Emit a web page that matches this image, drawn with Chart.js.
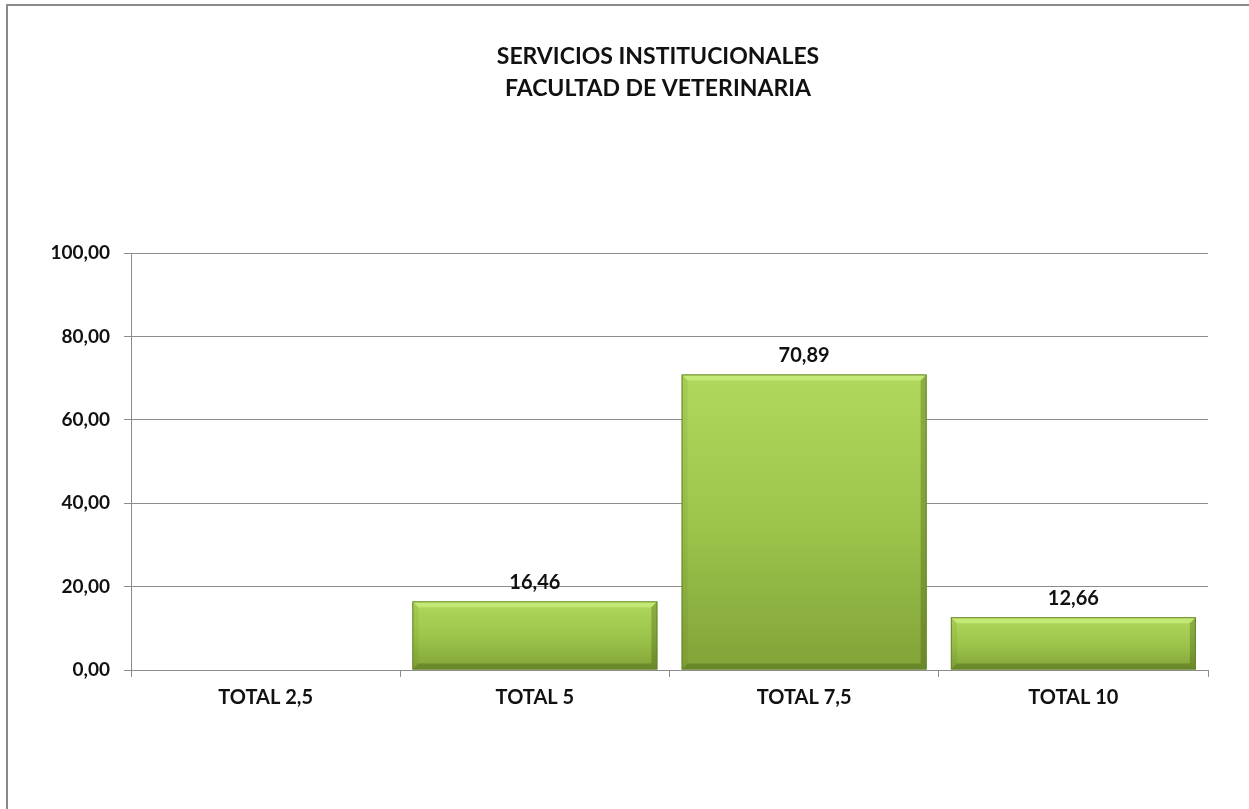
<!DOCTYPE html>
<html>
<head>
<meta charset="utf-8">
<script src="https://cdn.jsdelivr.net/npm/chart.js@4.4.1/dist/chart.umd.min.js"></script>
<style>
  html, body { margin: 0; padding: 0; overflow: hidden; background: #ffffff; width: 1249px; height: 809px; }
  #frame { position: absolute; left: 6px; top: 4px; width: 1400px; height: 1000px; border: 2px solid #8a8a8a; box-sizing: border-box; }
  #c { position: absolute; left: 0; top: 0; }
</style>
</head>
<body>
<div id="frame"></div>
<canvas id="c" width="1290" height="809"></canvas>
<script>
// Chart content
const chartTitle = ['SERVICIOS INSTITUCIONALES', 'FACULTAD DE VETERINARIA'];
const categories = ['TOTAL 2,5', 'TOTAL 5', 'TOTAL 7,5', 'TOTAL 10'];
const percentages = [0, 16.46, 70.89, 12.66];
const yTicks = [0, 20, 40, 60, 80, 100];

const FONT = 'Lato';
const GRID = '#8c8c8c';
const INK = '#111111';

// Comma as decimal separator, two decimals
const fmt = v => Number(v).toFixed(2).replace('.', ',');

// Vertical green gradient spanning each bar's own height
function barFill(ctx) {
  const chart = ctx.chart;
  const area = chart.chartArea;
  if (!area || ctx.dataIndex === undefined) return '#9cc44b';
  const y = chart.scales.y;
  const top = y.getPixelForValue(ctx.raw);
  const bottom = y.getPixelForValue(0);
  if (!(bottom - top > 1)) return '#9cc44b';
  const g = chart.ctx.createLinearGradient(0, top, 0, bottom);
  g.addColorStop(0, '#b0d85c');
  g.addColorStop(0.5, '#9dc54c');
  g.addColorStop(1, '#82a338');
  return g;
}

// Bevelled edges and outline on top of each bar
const bevelPlugin = {
  id: 'bevel',
  afterDatasetsDraw(chart) {
    const c = chart.ctx;
    chart.getDatasetMeta(0).data.forEach(bar => {
      const p = bar.getProps(['x', 'y', 'base', 'width'], true);
      const h = p.base - p.y;
      if (!(h > 1)) return;
      const l = p.x - p.width / 2, r = p.x + p.width / 2, t = p.y, b = p.base;
      const bv = Math.min(6, h / 2);
      const poly = (pts, color) => {
        c.beginPath();
        c.moveTo(pts[0][0], pts[0][1]);
        for (let k = 1; k < pts.length; k++) c.lineTo(pts[k][0], pts[k][1]);
        c.closePath();
        c.fillStyle = color;
        c.fill();
      };
      c.save();
      poly([[l, t], [r, t], [r - bv, t + bv], [l + bv, t + bv]], 'rgba(225,255,150,0.45)');
      poly([[l, t], [l + bv, t + bv], [l + bv, b - bv], [l, b]], 'rgba(60,80,10,0.08)');
      poly([[r, t], [r, b], [r - bv, b - bv], [r - bv, t + bv]], 'rgba(50,70,5,0.28)');
      poly([[l, b], [l + bv, b - bv], [r - bv, b - bv], [r, b]], 'rgba(50,70,5,0.30)');
      c.strokeStyle = '#67862a';
      c.lineWidth = 1;
      c.strokeRect(l + 0.5, t + 0.5, p.width - 1, h - 1);
      c.restore();
    });
  }
};

// Value labels above the bars
const valueLabelPlugin = {
  id: 'valueLabels',
  afterDatasetsDraw(chart) {
    const c = chart.ctx;
    const ds = chart.data.datasets[0];
    c.save();
    c.font = `bold 20px ${FONT}`;
    c.fillStyle = INK;
    c.textAlign = 'center';
    c.textBaseline = 'alphabetic';
    chart.getDatasetMeta(0).data.forEach((bar, i) => {
      const v = ds.data[i];
      if (!v) return;
      c.fillText(fmt(v), bar.x, bar.y - 12);
    });
    c.restore();
  }
};

new Chart(document.getElementById('c'), {
  type: 'bar',
  data: {
    labels: categories,
    datasets: [{
      data: percentages,
      backgroundColor: barFill,
      borderWidth: 0,
      barPercentage: 0.91,
      categoryPercentage: 1.0
    }]
  },
  options: {
    responsive: false,
    animation: false,
    devicePixelRatio: 1,
    layout: { padding: { left: 40, right: 14, top: 0, bottom: 79 } },
    plugins: {
      legend: { display: false },
      tooltip: { enabled: false },
      title: {
        display: true,
        text: chartTitle,
        color: INK,
        font: { family: FONT, size: 23, weight: 'bold', lineHeight: 1.37 },
        padding: { top: 41, bottom: 149 }
      }
    },
    scales: {
      x: {
        afterFit: s => { s.height = 60; },
        grid: { display: true, drawOnChartArea: false, drawTicks: true, tickLength: 7, color: GRID, offset: true },
        border: { display: true, color: GRID, width: 1 },
        ticks: { color: INK, font: { family: FONT, size: 20, weight: 'bold' }, padding: 9, maxRotation: 0 }
      },
      y: {
        min: 0,
        max: 100,
        afterFit: s => { s.width = 91; },
        afterBuildTicks: s => { s.ticks = yTicks.map(v => ({ value: v })); },
        grid: { color: GRID, tickLength: 7, drawTicks: true },
        border: { display: true, color: GRID, width: 1 },
        ticks: { color: INK, font: { family: FONT, size: 19, weight: 'bold' }, padding: 14, callback: v => fmt(v) }
      },
      // empty margin on the right of the plot, keeps the title centred on the frame
      rightMargin: {
        type: 'linear',
        axis: 'y',
        position: 'right',
        afterFit: s => { s.width = 68; },
        grid: { display: false },
        border: { display: false },
        ticks: { display: false }
      }
    }
  },
  plugins: [bevelPlugin, valueLabelPlugin]
});
</script>
</body>
</html>
